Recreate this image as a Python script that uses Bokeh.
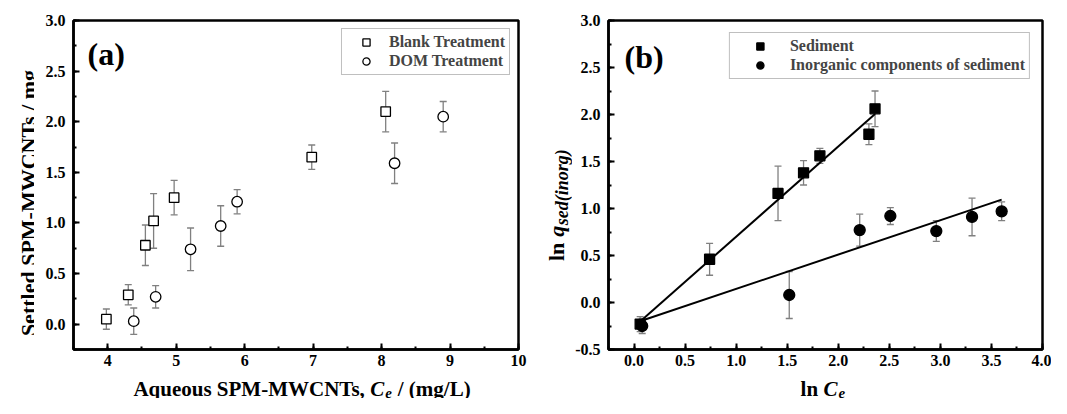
import numpy as np
from bokeh.plotting import figure
from bokeh.layouts import row, column
from bokeh.models import (ColumnDataSource, Whisker, TeeHead, Legend, LegendItem, Label,
                          SingleIntervalTicker, PrintfTickFormatter)
from bokeh.embed import file_html
from bokeh.resources import INLINE

# ---------------- data ----------------
# panel (a)
blank_x = [3.98, 4.30, 4.55, 4.67, 4.97, 6.98, 8.06]
blank_y = [0.05, 0.29, 0.78, 1.02, 1.25, 1.65, 2.10]
blank_err = [0.10, 0.10, 0.20, 0.27, 0.17, 0.12, 0.20]
dom_x = [4.38, 4.70, 5.21, 5.65, 5.89, 8.19, 8.90]
dom_y = [0.03, 0.27, 0.74, 0.97, 1.21, 1.59, 2.05]
dom_err = [0.13, 0.11, 0.21, 0.20, 0.12, 0.20, 0.15]

# panel (b)
sed_x = [0.06, 0.74, 1.41, 1.66, 1.82, 2.30, 2.36]
sed_y = [-0.23, 0.46, 1.16, 1.38, 1.56, 1.79, 2.06]
sed_err = [0.08, 0.17, 0.29, 0.13, 0.08, 0.11, 0.19]
inorg_x = [0.08, 1.52, 2.21, 2.51, 2.96, 3.31, 3.60]
inorg_y = [-0.25, 0.08, 0.77, 0.92, 0.76, 0.91, 0.97]
inorg_err = [0.08, 0.25, 0.17, 0.09, 0.11, 0.20, 0.10]
# linear fits: [slope, intercept]
sed_fit = [0.96, -0.26]
inorg_fit = [0.365, -0.22]

labels_a = ["Blank Treatment", "DOM Treatment"]
labels_b = ["Sediment", "Inorganic components of sediment"]

FONT = "Liberation Serif"
GRAY = "#808080"

# approximate advance widths (per 1000 em) of the bold serif face, used to place title pieces
TB = {' ': 250, '(': 333, ')': 333, ',': 250, '-': 333, '.': 250, '/': 278,
      'A': 722, 'C': 722, 'L': 667, 'M': 944, 'N': 722, 'P': 611, 'S': 556, 'T': 667, 'W': 1000,
      'a': 500, 'd': 556, 'e': 444, 'g': 500, 'l': 278, 'm': 833, 'n': 556, 'o': 500,
      'q': 556, 's': 389, 't': 333, 'u': 556}
TBI = {'C': 667, 'e': 444, 'q': 500, 's': 389, 'd': 500, '(': 333, ')': 333, 'i': 278,
       'n': 556, 'o': 500, 'r': 389, 'g': 500}
K = 1.057  # rendered text is slightly wider than these metrics


def tw(s, table, size):
    return K * sum(table[c] for c in s) / 1000.0 * size


H_TOP = 374          # height of the row holding the plots
H_BOT = 24           # height of the row holding the x-axis titles
B_TOP = 20           # common top border (frames in a row are aligned)
B_BOT = 25           # common bottom border
FRAME_H = H_TOP - B_TOP - B_BOT
FRAME_BOTTOM = B_TOP + FRAME_H   # y of the frame bottom, from the top of the picture


def style(p, x_int, y_int, x_fmt, y_fmt):
    p.outline_line_color = "black"
    p.outline_line_width = 2.5
    p.grid.visible = False
    p.background_fill_color = "white"
    p.border_fill_color = "white"
    for ax, interval, fmt in ((p.xaxis[0], x_int, x_fmt), (p.yaxis[0], y_int, y_fmt)):
        ax.ticker = SingleIntervalTicker(interval=interval, num_minor_ticks=2)
        ax.formatter = PrintfTickFormatter(format=fmt)
        ax.axis_line_color = "black"
        ax.axis_line_width = 2.5
        ax.major_tick_in = 6
        ax.major_tick_out = 0
        ax.minor_tick_in = 3
        ax.minor_tick_out = 0
        ax.major_tick_line_width = 2
        ax.minor_tick_line_width = 2
        ax.major_tick_line_color = "black"
        ax.minor_tick_line_color = "black"
        ax.major_label_text_font = FONT
        ax.major_label_text_font_style = "bold"
        ax.major_label_text_font_size = "16px"
        ax.major_label_text_color = "black"
    p.xaxis[0].major_label_standoff = 5
    p.yaxis[0].major_label_standoff = 8


def lab(p, text, x, y, size, fstyle="bold", align="left", baseline="alphabetic", angle=0.0):
    p.add_layout(Label(x=x, y=y, x_units="screen", y_units="screen", text=text,
                       text_font=FONT, text_font_size=f"{size}px", text_font_style=fstyle,
                       text_align=align, text_baseline=baseline, angle=angle,
                       text_color="black"))


def label_fig(w, h, top=0, bottom=0):
    f = figure(width=w, height=h, x_range=(0, 1), y_range=(0, 1),
               x_axis_location=None, y_axis_location=None,
               output_backend="svg", toolbar_location=None,
               min_border_left=0, min_border_right=0,
               min_border_top=top, min_border_bottom=bottom)
    f.grid.visible = False
    f.outline_line_color = None
    f.background_fill_color = "white"
    f.border_fill_color = "white"
    return f


def errbars(p, xs, ys, es):
    src = ColumnDataSource(dict(x=xs,
                                upper=[y + e for y, e in zip(ys, es)],
                                lower=[y - e for y, e in zip(ys, es)]))
    w = Whisker(base="x", upper="upper", lower="lower", source=src, level="underlay",
                line_color=GRAY, line_width=1.3,
                upper_head=TeeHead(size=7, line_color=GRAY, line_width=1.3),
                lower_head=TeeHead(size=7, line_color=GRAY, line_width=1.3))
    p.add_layout(w)


MX, MY, S, SS = 21, 22, 15, 18
sp = tw(" ", TB, MX)
wC = tw("C", TBI, MX)
we = tw("e", TBI, S)
wl = tw("ln", TB, MX)

# ---------------- panel (a) ----------------
yl1 = label_fig(34, H_TOP, B_TOP, B_BOT)
lab(yl1, "Settled SPM-MWCNTs / mg", 28, FRAME_BOTTOM - 202.5, MY,
    align="center", angle=np.pi / 2)

p1 = figure(width=504, height=H_TOP, x_range=(3.5, 10), y_range=(-0.25, 3.0),
            output_backend="svg", toolbar_location=None,
            min_border_left=39, min_border_right=20,
            min_border_top=B_TOP, min_border_bottom=B_BOT)
style(p1, 1, 0.5, "%d", "%.1f")
errbars(p1, blank_x, blank_y, blank_err)
errbars(p1, dom_x, dom_y, dom_err)
ra1 = p1.scatter(blank_x, blank_y, marker="square", size=9.5, fill_color="white",
                 line_color="black", line_width=1.3)
ra2 = p1.scatter(dom_x, dom_y, marker="circle", size=10.5, fill_color="white",
                 line_color="black", line_width=1.3)
leg1 = Legend(items=[LegendItem(label=labels_a[0], renderers=[ra1]),
                     LegendItem(label=labels_a[1], renderers=[ra2])],
              location="top_right", margin=8, padding=4, glyph_width=40, glyph_height=18,
              label_height=18, label_standoff=3, spacing=1,
              border_line_color=GRAY, border_line_width=1.2,
              label_text_font=FONT, label_text_font_style="bold", label_text_font_size="16px")
p1.add_layout(leg1)
lab(p1, "(a)", 14, FRAME_BOTTOM - 53, 32)

xl1 = label_fig(538, H_BOT)
w1 = tw("Aqueous SPM-MWCNTs,", TB, MX)
w3 = tw("/ (mg/L)", TB, MX)
tot = w1 + sp + wC + we + sp + w3
xc = 296 - tot / 2 + w1 + sp      # left edge of the italic C
yb = 10
lab(xl1, "Aqueous SPM-MWCNTs,", xc - sp, yb, MX, align="right")
lab(xl1, "C", xc, yb, MX, "bold italic")
lab(xl1, "e", xc + wC, yb - 4, S, "bold italic")
lab(xl1, "/ (mg/L)", xc + wC + we + sp, yb, MX)

# ---------------- panel (b) ----------------
yl2 = label_fig(34, H_TOP, B_TOP, B_BOT)
wlY = tw("ln", TB, MY)
spY = tw(" ", TB, MY)
wq = tw("q", TBI, MY)
wsub = tw("sed(inorg)", TBI, SS)
toty = wlY + spY + wq + wsub
yq = (FRAME_BOTTOM - 203) - toty / 2 + wlY + spY    # start of the italic q
xb = 18
lab(yl2, "ln", xb, yq - spY, MY, align="right", angle=np.pi / 2)
lab(yl2, "q", xb, yq, MY, "bold italic", angle=np.pi / 2)
lab(yl2, "sed(inorg)", xb + 5, yq + wq, SS, "bold italic", angle=np.pi / 2)

p2 = figure(width=479, height=H_TOP, x_range=(-0.25, 4.0), y_range=(-0.5, 3.0),
            output_backend="svg", toolbar_location=None,
            min_border_left=34, min_border_right=9,
            min_border_top=B_TOP, min_border_bottom=B_BOT)
style(p2, 0.5, 0.5, "%.1f", "%.1f")
errbars(p2, sed_x, sed_y, sed_err)
errbars(p2, inorg_x, inorg_y, inorg_err)
rb1 = p2.scatter(sed_x, sed_y, marker="square", size=10, fill_color="black",
                 line_color="black", line_width=1.3)
rb2 = p2.scatter(inorg_x, inorg_y, marker="circle", size=11, fill_color="black",
                 line_color="black", line_width=1.3)
for xs, fit in ((sed_x, sed_fit), (inorg_x, inorg_fit)):
    fx = np.array([min(xs), max(xs)])
    p2.line(fx, fit[0] * fx + fit[1], line_color="black", line_width=2)
leg2 = Legend(items=[LegendItem(label=labels_b[0], renderers=[rb1]),
                     LegendItem(label=labels_b[1], renderers=[rb2])],
              location="top_right", margin=12, padding=4, glyph_width=52, glyph_height=18,
              label_height=18, label_standoff=4, spacing=1,
              border_line_color=GRAY, border_line_width=1.2,
              label_text_font=FONT, label_text_font_style="bold", label_text_font_size="16px")
p2.add_layout(leg2)
lab(p2, "(b)", 16, FRAME_BOTTOM - 56, 32)

xl2 = label_fig(513, H_BOT)
tot2 = wl + sp + wC + we
xc2 = 284 - tot2 / 2 + wl + sp
lab(xl2, "ln", xc2 - sp, yb, MX, align="right")
lab(xl2, "C", xc2, yb, MX, "bold italic")
lab(xl2, "e", xc2 + wC, yb - 4, S, "bold italic")

layout = column(row(yl1, p1, yl2, p2), row(xl1, xl2))
open("out.html", "w").write(file_html(layout, INLINE))
